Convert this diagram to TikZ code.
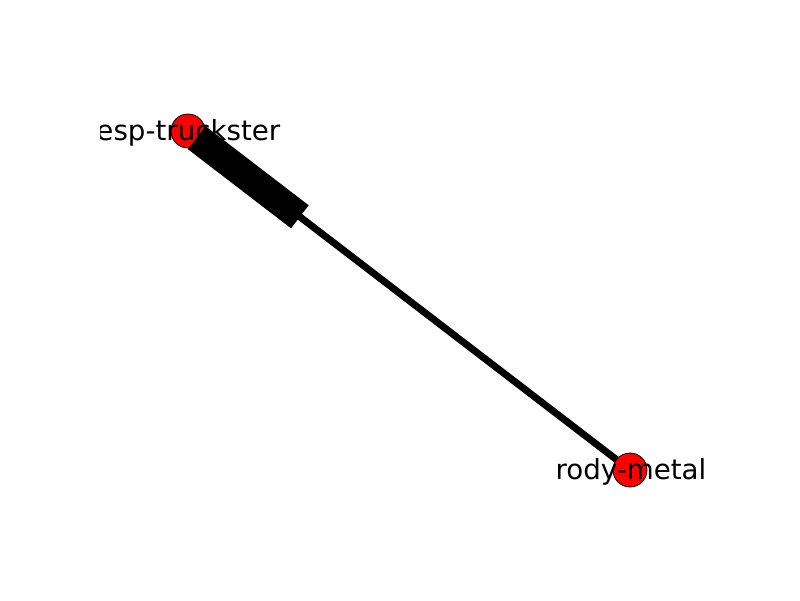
\documentclass[tikz,border=0pt]{standalone}
\usepackage{fontspec}
\setmainfont{DejaVu Sans}
\usetikzlibrary{calc}
\tikzset{
  vert/.style={circle, fill=red, draw=black, line width=0.8pt, minimum size=34pt, inner sep=0pt},
  lab/.style={font=\fontsize{27.7pt}{32pt}\selectfont, inner sep=0pt, anchor=center},
  edgeline/.style={line width=7pt, black},
  headbar/.style={line width=29pt, black, line cap=butt}
}
\begin{document}
\begin{tikzpicture}[x=1pt,y=-1pt]
\useasboundingbox (0,0) rectangle (800,600);
\coordinate (pe) at (188,131);
\coordinate (pr) at (630,470);
\draw[edgeline] (pe) -- (pr);
\node[vert] (r) at (pr) {};
\node[vert] (e) at (pe) {};
\draw[headbar] ($(pe)!11pt!(pr)$) -- ($(pe)!141pt!(pr)$);
\begin{scope}
\clip (100,72) rectangle (720,534);
\node[lab] (le) at (183,133) {resp-truckster};
\node[lab] (lr) at (631,472) {rody-metal};
\end{scope}
\end{tikzpicture}
\end{document}
